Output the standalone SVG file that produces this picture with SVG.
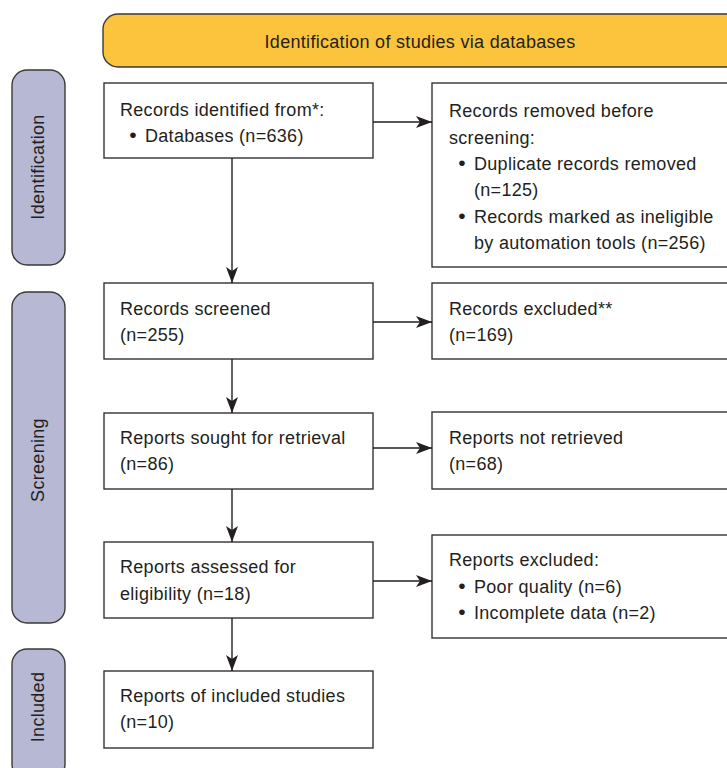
<svg xmlns="http://www.w3.org/2000/svg" width="727" height="768" viewBox="0 0 727 768">
<style>
text{font-family:"Liberation Sans",Arial,Helvetica,sans-serif;font-size:18px;fill:#231f20;letter-spacing:0.3px}
.box{fill:#fff;stroke:#333;stroke-width:1.4}
.pill{fill:#b6b8d4;stroke:#3a3a3a;stroke-width:1.4}
.banner{fill:#fcc43c;stroke:#3a3a3a;stroke-width:1.4}
.side{font-size:18px;letter-spacing:0.3px}
.b{font-size:21px}
.conn line{stroke:#231f20;stroke-width:1.4;fill:none}
</style>
<defs>
<marker id="ah" viewBox="0 0 16 12" refX="16" refY="6" markerWidth="16" markerHeight="12" markerUnits="userSpaceOnUse" orient="auto">
<path d="M0,0 L16,6 L0,12 L4,6 Z" fill="#231f20"/>
</marker>
</defs>
<g id="banner">
<rect class="banner" x="103" y="14" width="660" height="53" rx="15"/>
<text x="420" y="48" text-anchor="middle">Identification of studies via databases</text>
</g>
<g id="phase-identification">
<rect class="pill" x="12" y="70" width="53" height="195" rx="15"/>
<text class="side" transform="translate(44,167) rotate(-90)" text-anchor="middle">Identification</text>
</g>
<g id="phase-screening">
<rect class="pill" x="12" y="292" width="53" height="331" rx="15"/>
<text class="side" transform="translate(44,460) rotate(-90)" text-anchor="middle">Screening</text>
</g>
<g id="phase-included">
<rect class="pill" x="12" y="649" width="53" height="130" rx="15"/>
<text class="side" transform="translate(44,707) rotate(-90)" text-anchor="middle">Included</text>
</g>
<g id="identified">
<rect class="box" x="104" y="83" width="269" height="75"/>
<text x="120" y="116">Records identified from*:</text>
<text y="142"><tspan class="b" x="133" text-anchor="middle">•</tspan><tspan x="145">Databases (n=636)</tspan></text>
</g>
<g id="removed">
<rect class="box" x="432" y="83" width="310" height="184"/>
<text x="449" y="117">Records removed before</text>
<text x="449" y="143.5">screening:</text>
<text y="170"><tspan class="b" x="462" text-anchor="middle">•</tspan><tspan x="474">Duplicate records removed</tspan></text>
<text x="474" y="196">(n=125)</text>
<text y="222.5"><tspan class="b" x="462" text-anchor="middle">•</tspan><tspan x="474">Records marked as ineligible</tspan></text>
<text x="474" y="249">by automation tools (n=256)</text>
</g>
<g id="screened">
<rect class="box" x="104" y="283" width="269" height="76"/>
<text x="120" y="315">Records screened</text>
<text x="120" y="341">(n=255)</text>
</g>
<g id="excluded">
<rect class="box" x="432" y="283" width="310" height="76"/>
<text x="449" y="315">Records excluded**</text>
<text x="449" y="341">(n=169)</text>
</g>
<g id="sought">
<rect class="box" x="104" y="413" width="269" height="76"/>
<text x="120" y="444">Reports sought for retrieval</text>
<text x="120" y="470">(n=86)</text>
</g>
<g id="not-retrieved">
<rect class="box" x="432" y="412" width="310" height="77"/>
<text x="449" y="444">Reports not retrieved</text>
<text x="449" y="470">(n=68)</text>
</g>
<g id="assessed">
<rect class="box" x="104" y="542" width="269" height="76"/>
<text x="120" y="573">Reports assessed for</text>
<text x="120" y="600">eligibility (n=18)</text>
</g>
<g id="reports-excluded">
<rect class="box" x="432" y="535" width="310" height="103"/>
<text x="449" y="566">Reports excluded:</text>
<text y="592.5"><tspan class="b" x="462" text-anchor="middle">•</tspan><tspan x="474">Poor quality (n=6)</tspan></text>
<text y="619"><tspan class="b" x="462" text-anchor="middle">•</tspan><tspan x="474">Incomplete data (n=2)</tspan></text>
</g>
<g id="included">
<rect class="box" x="104" y="671" width="269" height="77"/>
<text x="120" y="702">Reports of included studies</text>
<text x="120" y="728">(n=10)</text>
</g>
<g class="conn" id="connectors">
<line x1="232" y1="158" x2="232" y2="283" marker-end="url(#ah)"/>
<line x1="232" y1="359" x2="232" y2="413" marker-end="url(#ah)"/>
<line x1="232" y1="489" x2="232" y2="542" marker-end="url(#ah)"/>
<line x1="232" y1="618" x2="232" y2="671" marker-end="url(#ah)"/>
<line x1="373" y1="122" x2="432" y2="122" marker-end="url(#ah)"/>
<line x1="373" y1="322" x2="432" y2="322" marker-end="url(#ah)"/>
<line x1="373" y1="448" x2="432" y2="448" marker-end="url(#ah)"/>
<line x1="373" y1="581" x2="432" y2="581" marker-end="url(#ah)"/>
</g>
</svg>
